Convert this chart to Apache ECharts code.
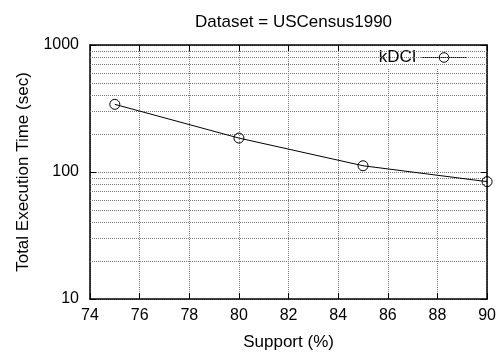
<!DOCTYPE html>
<html><head><meta charset="utf-8">
<script src="https://cdn.jsdelivr.net/npm/echarts@6/dist/echarts.min.js"></script>
<style>html,body{margin:0;padding:0;background:#fff}#c{width:499px;height:356px}</style>
</head><body><div id="c"></div>
<script>
const supportX = [75, 80, 85, 90];
const kdciTime = [341, 185, 112, 84];
const xTicks = [74, 76, 78, 80, 82, 84, 86, 88, 90];
const yTicks = [10, 100, 1000];
const yMinorGrid = [20, 30, 40, 50, 60, 70, 80, 90, 200, 300, 400, 500, 600, 700, 800, 900];

const FONT = 'Liberation Sans';
const GRID = {color: '#777', type: [1, 1], width: 1};
const chart = echarts.init(document.getElementById('c'), null, {renderer: 'canvas'});
const xCommon = {type: 'value', min: xTicks[0], max: xTicks[xTicks.length - 1], interval: 2};
const yCommon = {type: 'log', logBase: 10, min: yTicks[0], max: yTicks[yTicks.length - 1]};
chart.setOption({
  animation: false,
  backgroundColor: '#fff',
  textStyle: {fontFamily: FONT},
  title: {
    text: 'Dataset = USCensus1990',
    left: 190, top: 9,
    textStyle: {fontFamily: FONT, fontSize: 17, fontWeight: 'normal', color: '#000'}
  },
  legend: {
    data: ['kDCI'],
    right: 22, top: 46,
    align: 'right',
    itemWidth: 45, itemHeight: 12,
    padding: [3, 10, 3, 27],
    backgroundColor: '#fff',
    lineStyle: {width: 1, color: '#000'},
    itemStyle: {color: 'rgba(255,255,255,0)', borderColor: '#000', borderWidth: 1},
    textStyle: {fontFamily: FONT, fontSize: 17, color: '#000'}
  },
  grid: {left: 90, top: 45, width: 398, height: 257, show: false},
  xAxis: [Object.assign({}, xCommon, {
    position: 'bottom',
    name: 'Support (%)', nameLocation: 'middle', nameGap: 35,
    nameTextStyle: {fontFamily: FONT, fontSize: 17, color: '#000'},
    axisLine: {lineStyle: {color: '#000', width: 1.5}},
    axisTick: {inside: true, length: 6, lineStyle: {color: '#000'}},
    axisLabel: {fontFamily: FONT, fontSize: 16, color: '#000', margin: 9},
    splitLine: {show: true, lineStyle: GRID}
  }), Object.assign({}, xCommon, {
    position: 'top',
    axisLine: {lineStyle: {color: '#000', width: 1.5}},
    axisTick: {inside: true, length: 6, lineStyle: {color: '#000'}},
    axisLabel: {show: false},
    splitLine: {show: false}
  })],
  yAxis: [Object.assign({}, yCommon, {
    position: 'left',
    name: 'Total Execution Time (sec)', nameLocation: 'middle', nameGap: 58,
    nameTextStyle: {fontFamily: FONT, fontSize: 17, color: '#000'},
    axisLine: {lineStyle: {color: '#000', width: 1.5}},
    axisTick: {inside: true, length: 6, lineStyle: {color: '#000'}},
    axisLabel: {fontFamily: FONT, fontSize: 16, color: '#000', margin: 11, formatter: v => String(v)},
    splitLine: {show: true, lineStyle: GRID}
  }), Object.assign({}, yCommon, {
    position: 'right',
    axisLine: {show: true, lineStyle: {color: '#000', width: 1.5}},
    axisTick: {show: true, inside: true, length: 6, lineStyle: {color: '#000'}},
    axisLabel: {show: false},
    splitLine: {show: false}
  })],
  series: [{
    name: 'kDCI',
    type: 'line',
    data: supportX.map((x, i) => [x, kdciTime[i]]),
    symbol: 'circle', symbolSize: 10,
    lineStyle: {color: '#000', width: 1},
    itemStyle: {color: 'rgba(255,255,255,0)', borderColor: '#000', borderWidth: 1},
    z: 5,
    markLine: {
      silent: true, symbol: ['none', 'none'], label: {show: false},
      lineStyle: GRID,
      emphasis: {disabled: true},
      data: yMinorGrid.map(v => ({yAxis: v}))
    }
  }]
});
</script></body></html>
